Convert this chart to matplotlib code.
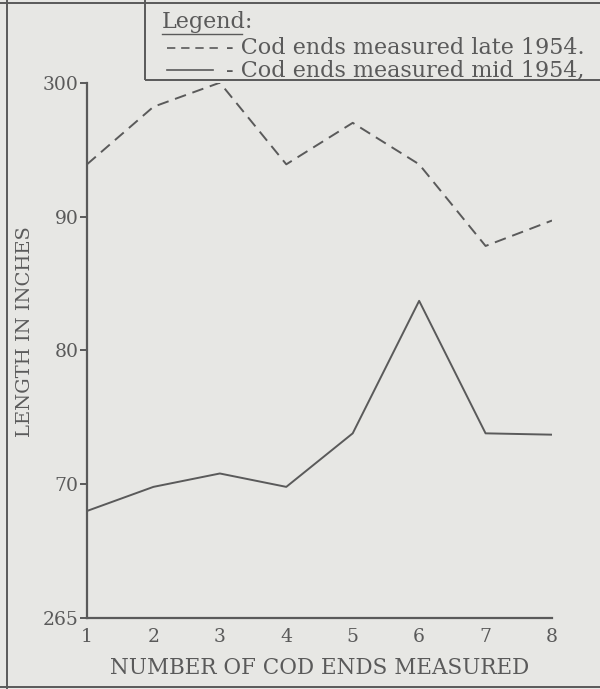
import matplotlib.pyplot as plt
from matplotlib.lines import Line2D
from matplotlib.patches import Rectangle

# data
cod_ends = [1, 2, 3, 4, 5, 6, 7, 8]
late_1954 = [93.9, 98.2, 100.0, 93.9, 97.0, 93.9, 87.8, 89.7]
mid_1954 = [68.0, 69.8, 70.8, 69.8, 73.8, 83.7, 73.8, 73.7]
ytick_pos = [60, 70, 80, 90, 100]
ytick_txt = ['265', '70', '80', '90', '300']

bg = '#e7e7e4'
ink = '#5a5a5a'
plt.rcParams['font.family'] = ['DejaVu Serif']

fig = plt.figure(figsize=(6, 6.89), dpi=100, facecolor=bg)
ax = fig.add_axes([0.145, 0.103, 0.775, 0.777])
ax.set_facecolor(bg)

ax.plot(cod_ends, late_1954, color=ink, lw=1.4, ls=(0, (6, 3.5)))
ax.plot(cod_ends, mid_1954, color=ink, lw=1.4)

ax.set_xlim(1, 8)
ax.set_ylim(60, 100)
ax.set_xticks(cod_ends)
ax.set_yticks(ytick_pos)
ax.set_yticklabels(ytick_txt)
for s in ['top', 'right']:
    ax.spines[s].set_visible(False)
for s in ['left', 'bottom']:
    ax.spines[s].set_color(ink)
    ax.spines[s].set_linewidth(1.6)
ax.tick_params(axis='y', direction='out', length=5, width=1.4, color=ink,
               labelcolor=ink, labelsize=13.5, pad=1)
ax.tick_params(axis='x', length=0, labelcolor=ink, labelsize=13.5, pad=7)
ax.set_xlabel('NUMBER OF COD ENDS MEASURED', color=ink, fontsize=15.5, labelpad=8)
ax.set_ylabel('LENGTH IN INCHES', color=ink, fontsize=14)
ax.yaxis.set_label_coords(-0.113, 0.535)

# legend box typed on the page
fig.patches.append(Rectangle((145 / 600, 1 - 80 / 689), 0.8, 0.2,
                             transform=fig.transFigure, fill=False,
                             edgecolor=ink, lw=1.4))
fig.text(162 / 600, 1 - 22 / 689, 'Legend:', color=ink, fontsize=16, va='center')
fig.lines.append(Line2D([162 / 600, 242 / 600], [1 - 34 / 689, 1 - 34 / 689],
                        transform=fig.transFigure, color=ink, lw=1))
fig.lines.append(Line2D([167 / 600, 222 / 600], [1 - 48 / 689, 1 - 48 / 689],
                        transform=fig.transFigure, color=ink, lw=1.2,
                        ls=(0, (5, 3.5))))
fig.text(226 / 600, 1 - 48 / 689, '- Cod ends measured late 1954.',
         color=ink, fontsize=16, va='center')
fig.lines.append(Line2D([167 / 600, 213 / 600], [1 - 70 / 689, 1 - 70 / 689],
                        transform=fig.transFigure, color=ink, lw=1.2))
fig.text(226 / 600, 1 - 70 / 689, '- Cod ends measured mid 1954,',
         color=ink, fontsize=16, va='center')

# page edges of the scan
fig.lines.append(Line2D([7 / 600, 7 / 600], [0, 1], transform=fig.transFigure,
                        color=ink, lw=1.4))
fig.lines.append(Line2D([0, 1], [1 - 3 / 689, 1 - 3 / 689], transform=fig.transFigure,
                        color=ink, lw=1.4))
fig.lines.append(Line2D([0, 1], [2 / 689, 2 / 689], transform=fig.transFigure,
                        color=ink, lw=1.4))

fig.savefig('out.png', dpi=100, facecolor=bg)
